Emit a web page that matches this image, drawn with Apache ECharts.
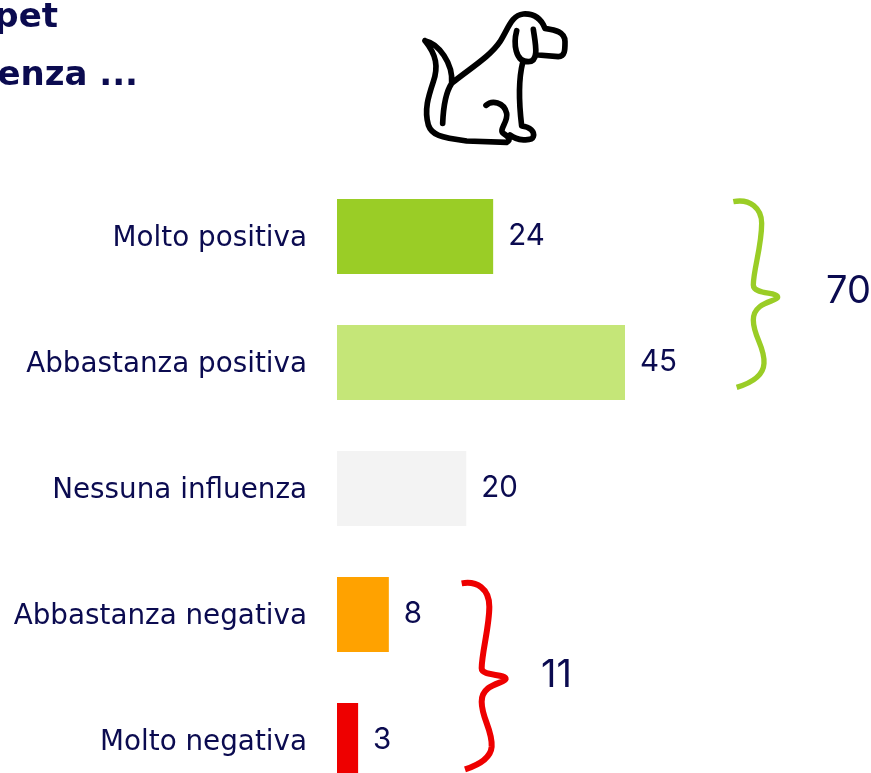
<!DOCTYPE html>
<html><head><meta charset="utf-8">
<style>html,body{margin:0;padding:0;background:#fff}#c{width:871px;height:773px}</style>
<script src="https://cdn.jsdelivr.net/npm/echarts@6/dist/echarts.min.js"></script></head>
<body><div id="c"></div>
<script>
const categories = ['Molto positiva','Abbastanza positiva','Nessuna influenza','Abbastanza negativa','Molto negativa'];
const values = [24.4, 45, 20.2, 8.1, 3.3];
const barColors = ['#9acd26','#c5e678','#f3f3f3','#ffa200','#ee0000'];
const groupTotals = ['70','11'];
const titleLine1 = 'Avere un pet';
const titleLine2 = 'che influenza ...';
const navy = '#0b0b50';
const font = 'DejaVu Sans';
const numFont = 'Inter';
const dog = 'M75,122 C115,130 160,190 155,250 M75,122 C110,165 115,200 100,245 C85,290 72,330 85,375 C95,405 120,412 200,423 L320,427 C335,420 325,410 310,400 C295,390 325,365 320,340 C312,305 275,300 258,316 M155,250 C135,280 130,320 128,370 M155,250 C210,205 270,170 300,125 C325,85 335,45 370,42 C405,40 425,60 435,85 C465,90 495,95 495,125 C495,150 495,170 475,170 L415,165 M350,92 C340,130 345,185 385,185 C420,185 405,125 400,88 M368,188 C355,240 358,320 365,378 C390,380 405,395 400,410 C395,425 350,422 330,405';
const braceGreen = 'M100,65 C150,55 185,85 185,130 C185,200 160,270 160,315 C160,345 235,335 233,352 C230,365 160,365 160,420 C160,470 195,500 192,550 C190,590 150,610 110,622';
const braceRed = 'M65,40 C110,32 148,55 148,110 C148,170 125,250 125,295 C125,320 198,310 197,327 C195,340 125,340 125,395 C125,445 158,480 155,530 C152,565 115,585 75,598';
echarts.graphic.registerShape('dogShape', echarts.graphic.extendPath(dog, {}));
echarts.graphic.registerShape('braceGreenShape', echarts.graphic.extendPath(braceGreen, {}));
echarts.graphic.registerShape('braceRedShape', echarts.graphic.extendPath(braceRed, {}));
const titleStyle = {fontFamily:font,fontWeight:700,fontSize:34,color:navy,lineHeight:57};
const chart = echarts.init(document.getElementById('c'), null, {renderer:'canvas'});
chart.setOption({
  animation:false,
  backgroundColor:'#fff',
  title:[
    {text:titleLine1,left:58,top:-10,padding:0,textAlign:'right',textStyle:titleStyle},
    {text:titleLine2,left:138,top:48,padding:0,textAlign:'right',textStyle:titleStyle}
  ],
  grid:{left:337,top:173.5,width:320,height:630,outerBoundsMode:'none'},
  xAxis:{type:'value',min:0,max:50,show:false},
  yAxis:{type:'category',inverse:true,data:categories,
    axisLine:{show:false},axisTick:{show:false},
    axisLabel:{margin:30,fontFamily:font,fontSize:27.8,color:navy,fontWeight:400,verticalAlign:'top',lineHeight:4}},
  series:[{type:'bar',barWidth:75,
    data:values.map((v,i)=>({value:v,itemStyle:{color:barColors[i]}})),
    label:{show:true,position:'right',distance:15,fontFamily:numFont,fontSize:29.5,color:navy,formatter:p=>Math.round(p.value)}}],
  graphic:[
    {type:'dogShape',x:400,y:0,scaleX:1/3,scaleY:1/3,style:{fill:null,stroke:'#000',lineWidth:17,lineCap:'round',lineJoin:'round'}},
    {type:'braceGreenShape',x:700,y:180,scaleX:1/3,scaleY:1/3,style:{fill:null,stroke:'#9acd26',lineWidth:16}},
    {type:'braceRedShape',x:440,y:570,scaleX:1/3,scaleY:1/3,style:{fill:null,stroke:'#ee0000',lineWidth:18}},
    {type:'text',x:826,y:292,style:{text:groupTotals[0],fontFamily:numFont,fontSize:38,fill:navy,textVerticalAlign:'middle'}},
    {type:'text',x:541,y:676,style:{text:groupTotals[1],fontFamily:numFont,fontSize:38,fill:navy,textVerticalAlign:'middle'}}
  ]
});
</script></body></html>
